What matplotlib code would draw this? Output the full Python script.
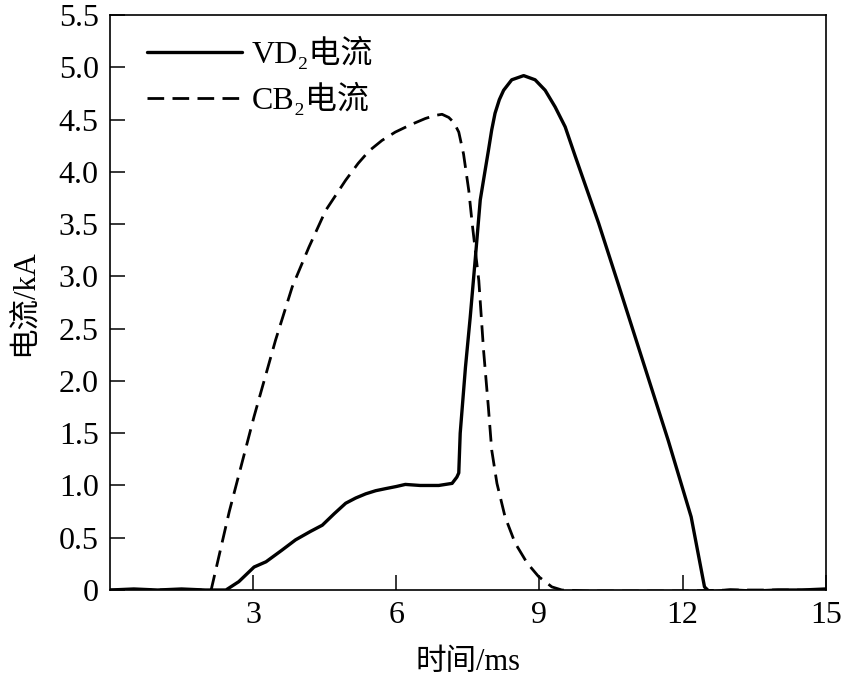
import matplotlib
matplotlib.use("Agg")
import matplotlib.pyplot as plt

plt.rcParams['font.family'] = ['Liberation Serif', 'Noto Sans CJK SC']

# VD2 current (solid)
vd2_t = [0.0, 0.5, 1.0, 1.5, 2.0, 2.43, 2.7, 3.02, 3.27, 3.6, 3.89, 4.2, 4.45, 4.7, 4.94,
         5.15, 5.36, 5.57, 5.78, 6.0, 6.19, 6.5, 6.89, 7.17, 7.27, 7.31, 7.34, 7.45,
         7.55, 7.66, 7.76, 7.85, 7.93, 8.00, 8.07, 8.16, 8.25, 8.42, 8.67, 8.91, 9.12,
         9.33, 9.54, 9.75, 10.24, 10.65, 11.21, 11.70, 12.18, 12.46, 12.57,
         13.0, 13.5, 14.0, 14.5, 15.0]
vd2_i = [0.0, 0.01, 0.0, 0.01, 0.0, 0.0, 0.08, 0.22, 0.27, 0.38, 0.48, 0.56, 0.62, 0.73, 0.83,
         0.88, 0.92, 0.95, 0.97, 0.99, 1.01, 1.0, 1.0, 1.02, 1.08, 1.12, 1.50, 2.13,
         2.61, 3.19, 3.73, 3.98, 4.20, 4.40, 4.56, 4.69, 4.78, 4.88, 4.92, 4.88, 4.78,
         4.62, 4.43, 4.15, 3.51, 2.93, 2.13, 1.43, 0.70, 0.03, -0.02,
         0.0, -0.01, 0.0, 0.0, 0.01]

# CB2 current (dashed)
cb2_t = [0.0, 0.5, 1.0, 1.5, 2.0, 2.12, 2.5, 3.02, 3.47, 3.82, 4.17, 4.52, 4.94, 5.2,
         5.43, 5.7, 5.98, 6.30, 6.61, 6.82, 6.96, 7.10, 7.21, 7.31, 7.41, 7.52, 7.59,
         7.73, 7.83, 7.93, 8.00, 8.11, 8.28, 8.49, 8.74, 8.98, 9.26, 9.47, 10.0, 11.0,
         12.0, 13.0, 14.0, 15.0]
cb2_i = [0.0, 0.0, 0.0, 0.0, 0.0, 0.0, 0.75, 1.66, 2.39, 2.90, 3.28, 3.63, 3.92, 4.08,
         4.20, 4.30, 4.38, 4.45, 4.51, 4.54, 4.55, 4.52, 4.47, 4.38, 4.17, 3.82, 3.51,
         2.96, 2.29, 1.75, 1.34, 1.02, 0.70, 0.45, 0.26, 0.13, 0.03, 0.0, -0.01, -0.01,
         -0.01, 0.0, 0.0, 0.0]

x_ticks = [3, 6, 9, 12, 15]
y_ticks = [0, 0.5, 1.0, 1.5, 2.0, 2.5, 3.0, 3.5, 4.0, 4.5, 5.0, 5.5]
y_tick_labels = ['0', '0.5', '1.0', '1.5', '2.0', '2.5', '3.0', '3.5', '4.0', '4.5', '5.0', '5.5']

fig = plt.figure(figsize=(8.46, 6.81), dpi=100)
ax = fig.add_axes([0.130, 0.1336, 0.846, 0.8444])

ax.plot(vd2_t, vd2_i, color='black', lw=2.4, label='VD\u2082电流',
        solid_joinstyle='round', solid_capstyle='round')
ax.plot(cb2_t, cb2_i, color='black', lw=2.0, dashes=(6, 3), label='CB\u2082电流')

ax.set_xlim(0, 15)
ax.set_ylim(0, 5.5)
ax.set_xticks(x_ticks)
ax.set_yticks(y_ticks)
ax.set_yticklabels(y_tick_labels)
ax.tick_params(direction='in', length=11, width=1.1, labelsize=23, pad=8)
for s in ax.spines.values():
    s.set_linewidth(1.2)

ax.set_xlabel('时间/ms', fontsize=22, labelpad=13)
ax.set_ylabel('电流/kA', fontsize=22, labelpad=14)

leg = ax.legend(loc='upper left', frameon=False, fontsize=23, handlelength=3.0,
                handletextpad=0.3, labelspacing=0.4, borderaxespad=0.3,
                bbox_to_anchor=(0.02, 1.0))

fig.savefig('out.png', dpi=100)
